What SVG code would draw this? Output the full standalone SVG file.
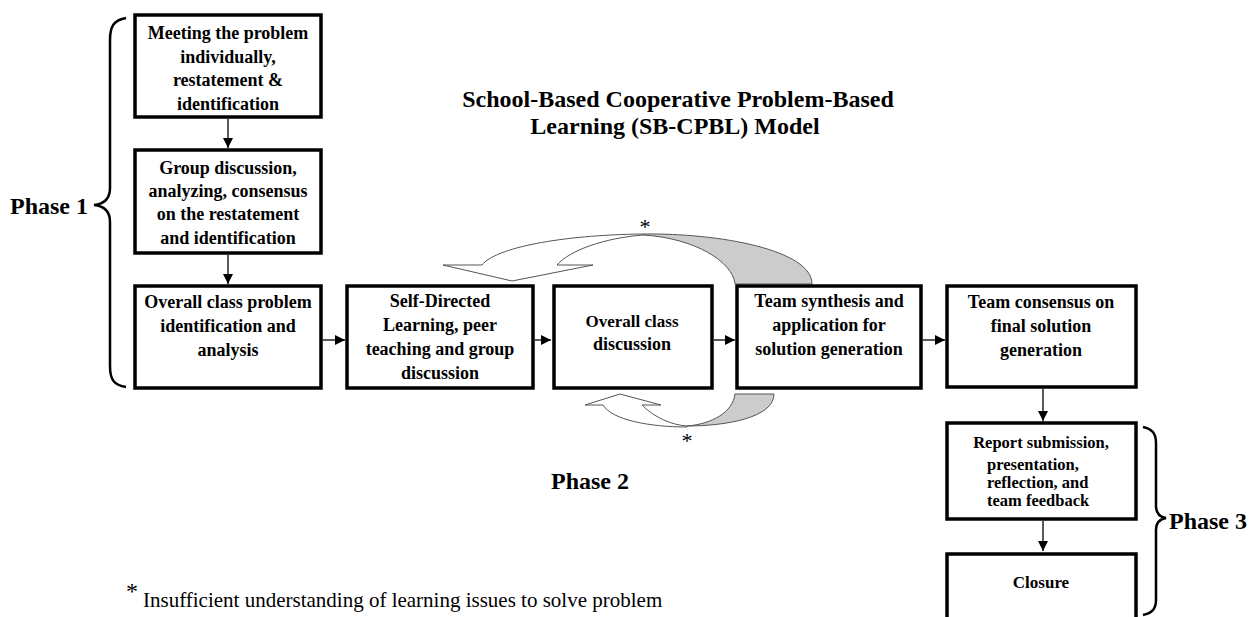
<svg xmlns="http://www.w3.org/2000/svg" width="1257" height="617" viewBox="0 0 1257 617">
<defs>
<marker id="ah" viewBox="0 0 10 10" refX="10" refY="5" markerWidth="10" markerHeight="10" markerUnits="userSpaceOnUse" orient="auto">
<path d="M0,0 L10,5 L0,10 Z" fill="#000"/>
</marker>
</defs>
<style>
.box{fill:#fff;stroke:#000;stroke-width:3.5}
.t{font-family:"Liberation Serif","Times New Roman",serif;font-weight:bold;font-size:18px;fill:#000;text-anchor:middle}
.s{font-size:16.5px}
.conn{stroke:#000;stroke-width:1.3;fill:none;marker-end:url(#ah)}
.brace{stroke:#000;stroke-width:2.5;fill:none}
.ph{font-family:"Liberation Serif","Times New Roman",serif;font-weight:bold;font-size:24px;fill:#000}
.ttl{font-family:"Liberation Serif","Times New Roman",serif;font-weight:bold;font-size:24px;fill:#000;text-anchor:middle}
.back{fill:#cccccc;stroke:#555;stroke-width:1}
.front{fill:#fff;stroke:#555;stroke-width:1}
.star{font-family:"Liberation Serif","Times New Roman",serif;font-size:22px;fill:#000;text-anchor:middle}
</style>
<rect width="1257" height="617" fill="#fff"/>

<g id="connectors">
<line class="conn" x1="228" y1="119" x2="228" y2="148"/>
<line class="conn" x1="228" y1="255" x2="228" y2="284"/>
<line class="conn" x1="323" y1="340" x2="345" y2="340"/>
<line class="conn" x1="535" y1="340" x2="551" y2="340"/>
<line class="conn" x1="714" y1="340" x2="735" y2="340"/>
<line class="conn" x1="923" y1="340" x2="945" y2="340"/>
<line class="conn" x1="1043" y1="389" x2="1043" y2="421"/>
<line class="conn" x1="1043" y1="521" x2="1043" y2="551"/>
</g>

<g id="loop-top">
<path class="back" d="M643,234 C720,233 812,250 812,284 L735,284 C733,262 695,238 643,235 Z"/>
<path class="front" d="M643,234 C560,235 495,248 482,265 L443,265 L512,281 L593,265 L557,265 C570,250 605,238 643,235 Z"/>
<text class="star" x="645" y="234">*</text>
</g>

<g id="loop-bottom">
<path class="back" d="M687,426 C725,426 774,418 774,394 L735,394 C733,412 712,424 687,426 Z"/>
<path class="front" d="M687,427 C650,427 612,420 603,405 L585,405 L620,394 L661,405 L642,405 C655,418 672,425 687,426 Z"/>
<text class="star" x="687" y="448">*</text>
</g>

<g id="n1">
<rect class="box" x="135" y="15" width="186" height="102"/>
<text class="t" x="228" y="39">Meeting the problem</text>
<text class="t" x="228" y="63">individually,</text>
<text class="t" x="228" y="86">restatement &amp;</text>
<text class="t" x="228" y="110">identification</text>
</g>
<g id="n2">
<rect class="box" x="135" y="150" width="186" height="103"/>
<text class="t" x="228" y="174">Group discussion,</text>
<text class="t" x="228" y="197">analyzing, consensus</text>
<text class="t" x="228" y="220">on the restatement</text>
<text class="t" x="228" y="244">and identification</text>
</g>
<g id="n3">
<rect class="box" x="135" y="286" width="186" height="102"/>
<text class="t" x="228" y="308">Overall class problem</text>
<text class="t" x="228" y="332">identification and</text>
<text class="t" x="228" y="356">analysis</text>
</g>
<g id="n4">
<rect class="box" x="347" y="286" width="186" height="102"/>
<text class="t" x="440" y="307">Self-Directed</text>
<text class="t" x="440" y="331">Learning, peer</text>
<text class="t" x="440" y="355">teaching and group</text>
<text class="t" x="440" y="379">discussion</text>
</g>
<g id="n5">
<rect class="box" x="554" y="286" width="158" height="102"/>
<text class="t" x="632" y="327" style="font-size:17px">Overall class</text>
<text class="t" x="632" y="350">discussion</text>
</g>
<g id="n6">
<rect class="box" x="737" y="286" width="184" height="102"/>
<text class="t" x="829" y="307">Team synthesis and</text>
<text class="t" x="829" y="331">application for</text>
<text class="t" x="829" y="355">solution generation</text>
</g>
<g id="n7">
<rect class="box" x="947" y="286" width="189" height="101"/>
<text class="t" x="1041" y="308">Team consensus on</text>
<text class="t" x="1041" y="332">final solution</text>
<text class="t" x="1041" y="356">generation</text>
</g>
<g id="n8">
<rect class="box" x="947" y="423" width="189" height="96"/>
<text class="t s" x="1041" y="448">Report submission,</text>
<text class="t s" x="987" y="470" style="text-anchor:start">presentation,</text>
<text class="t s" x="987" y="488" style="text-anchor:start">reflection, and</text>
<text class="t s" x="987" y="506" style="text-anchor:start">team feedback</text>
</g>
<g id="n9">
<rect class="box" x="947" y="554" width="189" height="70"/>
<text class="t" x="1041" y="588" style="font-size:17px">Closure</text>
</g>

<g id="phase1">
<path class="brace" d="M126,18 C114,20 110,26 110,40 L110,188 C110,199 104,204 94,205 C104,206 110,211 110,222 L110,366 C110,380 114,385 126,387"/>
<text class="ph" x="10" y="214">Phase 1</text>
</g>
<g id="phase2">
<text class="ph" x="551" y="489">Phase 2</text>
</g>
<g id="phase3">
<path class="brace" d="M1143,427 C1152,429 1156,433 1156,443 L1156,506 C1156,513 1160,517 1166,518 C1160,519 1156,523 1156,530 L1156,600 C1156,609 1152,613 1143,615"/>
<text class="ph" x="1169" y="529">Phase 3</text>
</g>

<g id="title">
<text class="ttl" x="678" y="107">School-Based Cooperative Problem-Based</text>
<text class="ttl" x="675" y="134">Learning (SB-CPBL) Model</text>
</g>

<g id="footnote">
<text x="126" y="599" style="font-family:'Liberation Serif','Times New Roman',serif;font-size:24px;fill:#000">*</text>
<text x="143" y="607" style="font-family:'Liberation Serif','Times New Roman',serif;font-size:21px;fill:#000">Insufficient understanding of learning issues to solve problem</text>
</g>
</svg>
